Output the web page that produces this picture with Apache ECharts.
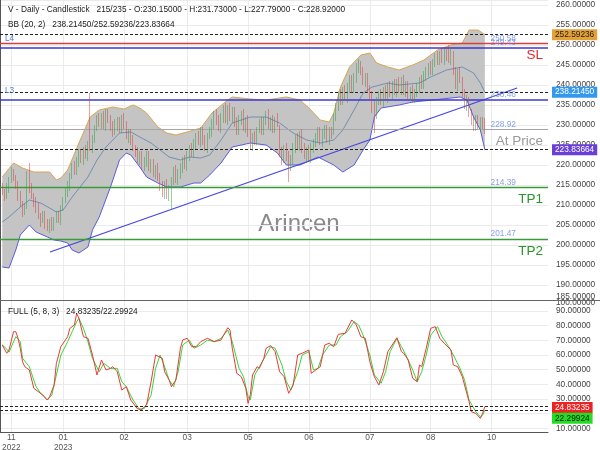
<!DOCTYPE html>
<html><head><meta charset="utf-8">
<script src="https://cdn.jsdelivr.net/npm/echarts@6/dist/echarts.min.js"></script>
<style>html,body{margin:0;padding:0;background:#fff}#c{width:600px;height:450px}</style>
</head><body><div id="c"></div>
<script>
// ---- candles (bar k sits on slot k+1) ----
const opens = [214.5,213.0,212.5,214.0,216.5,218.0,216.5,215.5,212.5,210.0,
208.5,210.0,219.0,214.5,212.0,211.0,209.5,207.0,206.5,207.5,
205.5,204.0,206.0,204.0,206.5,207.5,206.0,209.5,211.5,213.0,
214.0,217.5,220.0,218.5,220.5,223.0,221.0,224.0,222.0,227.5,
224.0,226.0,229.5,232.0,230.0,232.5,229.5,233.5,231.5,230.0,
228.5,229.5,231.5,229.0,232.0,230.5,226.5,228.5,226.5,224.0,
223.5,221.0,223.0,219.5,220.5,222.5,219.0,221.0,217.5,219.5,
217.5,215.0,212.5,215.5,212.0,214.5,216.0,219.0,216.0,217.5,
219.0,221.5,219.5,222.0,224.5,223.0,225.0,227.5,225.5,229.0,
226.5,224.0,227.5,228.0,230.0,233.0,231.5,229.0,231.5,234.0,
231.0,234.5,231.5,233.5,231.0,228.5,231.0,233.0,229.0,231.5,
228.5,224.5,227.5,225.5,229.0,231.0,228.0,231.0,233.0,229.5,
231.5,228.5,232.0,229.5,223.5,221.0,224.5,222.5,219.0,221.0,
224.0,227.0,224.5,228.0,224.5,222.0,224.0,221.5,224.0,225.0,
226.5,229.0,225.5,227.5,229.5,226.0,229.0,228.0,232.0,234.0,
238.0,236.0,239.0,236.5,239.0,241.5,239.0,241.5,244.5,245.5,
244.0,240.5,242.5,239.5,238.0,234.5,232.5,236.0,238.0,235.5,
239.0,236.5,240.0,237.5,240.5,238.0,241.0,238.5,241.5,238.0,
240.5,237.0,239.0,236.0,238.0,239.0,241.5,240.0,242.0,243.0,
245.0,243.0,245.0,247.5,245.5,248.0,246.0,248.5,247.5,246.0,
248.0,243.5,239.5,243.5,241.5,238.5,234.5,236.5,233.5,231.5,
229.0,232.0,229.5,231.5,230.15];
const closes = [213.5,212.0,214.5,216.0,218.5,217.0,215.0,212.0,210.5,208.0,
209.5,218.0,214.0,212.5,210.5,209.0,207.5,206.0,207.0,205.0,
204.0,205.5,204.5,206.0,207.5,206.5,209.0,211.0,213.5,214.5,
217.0,219.5,218.5,221.0,222.5,221.5,223.5,222.5,225.0,224.5,
226.5,229.0,231.5,230.5,232.0,230.0,233.0,231.5,229.5,228.0,
230.5,231.0,229.0,231.5,230.0,227.5,228.0,226.0,224.5,223.0,
221.5,222.5,220.0,221.0,222.5,219.5,220.5,218.0,219.0,217.0,
214.5,213.0,215.0,212.5,214.0,216.0,218.5,216.5,218.0,219.5,
221.0,220.0,222.5,224.0,223.0,225.5,227.0,226.0,228.5,226.0,
224.5,227.0,228.5,230.5,232.5,231.0,229.5,232.0,233.5,231.5,
234.0,232.0,233.5,230.5,229.0,231.5,232.5,229.5,231.0,228.0,
225.0,227.0,226.0,229.0,230.5,228.5,231.5,232.5,230.0,231.0,
229.0,231.5,230.5,223.0,221.5,224.0,222.0,219.5,221.5,224.5,
226.5,225.0,227.5,224.0,222.5,223.5,222.0,224.5,225.5,227.0,
228.5,226.0,228.0,229.0,226.5,228.5,227.5,232.0,234.5,237.5,
236.0,238.5,237.0,239.5,241.0,239.0,242.0,244.0,245.0,243.5,
241.0,242.0,239.0,237.5,234.0,233.0,236.0,237.5,236.0,238.5,
237.0,239.5,238.0,240.0,238.5,240.5,239.0,241.0,238.5,240.0,
237.5,238.5,236.5,238.0,239.5,241.0,240.0,242.5,243.5,244.5,
243.5,245.5,247.0,246.0,247.5,246.5,248.0,247.0,246.5,248.5,
243.0,240.0,243.0,241.5,238.0,235.0,236.0,233.0,231.0,229.5,
231.5,230.0,231.0,230.2,228.92];
const lows = [212.5,211.0,211.5,213.0,215.5,216.0,214.0,211.0,209.5,207.0,
207.5,209.0,213.0,211.5,209.5,208.0,206.5,204.5,205.5,204.0,
203.5,203.0,203.5,203.5,205.5,205.5,205.0,208.5,210.5,212.0,
213.5,216.5,217.5,217.5,219.5,220.5,220.0,221.5,221.0,223.5,
223.0,225.5,228.5,229.5,229.0,229.0,228.5,230.5,228.5,227.0,
227.5,228.5,228.0,228.0,229.0,226.5,225.5,225.0,223.5,222.0,
220.5,220.0,219.0,218.5,219.5,218.5,218.0,217.0,216.5,216.0,
213.5,212.0,211.5,211.5,211.0,208.75,215.0,215.5,215.0,216.5,
218.0,219.0,218.5,221.0,222.0,222.0,224.0,225.0,224.5,225.0,
223.5,223.0,226.5,227.0,229.0,230.0,228.5,228.0,230.5,230.5,
230.0,231.0,230.5,229.5,227.5,227.5,230.0,228.5,228.0,227.0,
224.0,223.5,225.0,225.0,228.0,227.5,227.5,230.0,229.0,228.5,
228.0,228.0,229.5,222.0,220.0,220.5,221.0,215.75,218.5,220.0,
223.0,224.0,223.5,223.0,221.5,221.0,221.0,220.5,223.0,224.5,
225.5,225.0,224.5,226.5,225.5,225.0,226.5,227.5,231.0,233.5,
235.0,235.0,236.0,235.5,238.0,238.0,238.0,240.5,243.0,242.5,
240.0,239.5,238.0,236.5,233.0,228.0,231.5,235.0,235.0,234.5,
236.0,235.5,237.0,236.5,237.5,237.0,238.0,237.5,237.5,237.0,
236.5,236.0,235.5,235.5,237.0,238.0,239.0,239.0,241.0,242.0,
242.5,242.5,244.5,245.0,245.0,245.5,245.0,246.0,245.5,245.0,
242.5,239.0,238.5,240.5,237.0,234.0,233.5,232.0,230.0,228.5,
228.5,229.0,228.5,229.0,227.79];
const highs = [215.5,214.0,215.5,217.0,219.5,219.0,217.5,216.0,213.5,211.0,
210.5,218.5,220.5,215.5,213.0,212.0,210.5,208.0,208.5,208.5,
206.5,206.5,207.0,207.0,208.5,208.5,210.0,212.0,214.5,216.0,
218.0,220.5,221.0,222.0,224.0,224.0,224.5,225.0,226.0,238.0,
227.5,230.0,232.5,233.0,233.0,233.5,234.0,234.0,232.5,231.0,
231.5,232.0,232.0,232.5,233.0,231.0,229.0,229.0,227.5,225.0,
224.5,223.5,223.5,222.0,223.5,223.5,221.5,221.5,220.0,220.5,
218.0,216.0,216.0,216.5,215.0,217.0,219.5,220.0,219.0,220.5,
222.0,222.5,223.5,225.0,225.5,226.5,228.0,228.5,229.5,229.5,
227.5,228.0,229.5,231.5,233.5,234.0,232.5,233.0,235.0,235.5,
235.0,235.5,234.5,234.5,232.0,232.5,233.5,234.0,232.0,232.5,
229.0,228.0,228.5,229.5,231.5,232.0,232.0,233.5,234.0,232.0,
232.5,232.0,233.0,230.0,224.5,225.0,225.5,223.5,222.5,225.5,
227.5,228.0,228.5,229.0,225.5,224.5,225.0,225.5,226.5,228.0,
229.5,229.5,229.0,230.0,230.0,229.5,229.5,233.0,235.5,238.5,
239.0,239.5,240.0,240.5,242.5,242.5,243.0,245.5,246.5,246.0,
244.5,243.0,243.0,240.0,238.5,236.0,237.0,238.5,239.0,239.5,
240.0,240.5,241.0,241.0,241.5,241.5,242.0,242.0,242.5,241.0,
241.0,239.5,240.0,239.0,240.5,242.0,242.5,243.5,244.5,245.5,
246.0,246.5,248.0,248.5,248.5,249.0,249.0,249.5,250.0,249.5,
248.5,244.5,244.0,244.5,242.0,239.0,237.5,237.0,234.0,232.0,
232.5,232.5,232.0,232.0,231.73];

// ---- Bollinger (20,2): [slot, value] ----
const bbUpper = [[1,217],[6,220.5],[10,219.25],[15,218.25],[22,218.25],[25,216.25],[27,216.75],[30,218.75],[35,225.5],[40,232],[44,233.75],[50,234.5],[55,234],[59,235],[62,234.25],[65,233],[70,229.5],[74,228],[78,227.5],[83,228.25],[89,229.25],[94,233],[101,236.25],[103,237],[111,236.5],[118,236.25],[127,237],[133,236.25],[137,234.25],[142,231.25],[146,230.75],[148,233],[151,239.5],[155,244.5],[160,247.5],[164,248],[167,245.5],[172,244.5],[177,243.75],[183,245],[188,246.25],[194,248.75],[200,250],[205,250.5],[208,253.75],[212,253.75],[215,252.59]];
const bbMid = [[1,205.75],[4,207],[9,209.5],[13,211.25],[18,210.5],[22,209.25],[25,208.25],[28,208.75],[32,212],[39,217],[43,221.25],[47,224.5],[53,228],[58,228.25],[62,227],[67,225.5],[71,223.75],[75,222],[80,221.25],[84,222],[89,221.75],[93,222.5],[98,226.25],[103,230.5],[111,232],[118,232],[124,230.5],[130,228],[136,226.25],[142,225.5],[148,226.25],[152,228.75],[157,233.75],[161,238],[165,239.5],[172,240.5],[177,240],[186,240.5],[191,242],[198,243.75],[205,244.5],[210,243],[213,240.5],[215,238.21]];
const bbLower = [[1,194.5],[4,194.25],[7,198.75],[9,202.5],[13,205],[16,203.25],[21,202],[24,201.25],[27,201],[30,200.5],[32,198.75],[35,198],[39,199.5],[41,203.75],[44,207],[49,214.5],[53,221.25],[56,223],[58,222.5],[62,219.5],[65,217],[70,215.5],[74,214.5],[80,214.5],[86,215.5],[89,215.5],[93,217.5],[98,220.5],[103,224.5],[111,225.5],[118,225],[123,223],[127,220],[133,220],[141,222],[148,220],[152,218.25],[157,220],[161,223.75],[164,226.25],[166,232],[169,234.25],[177,235],[183,235.75],[192,236.25],[204,237],[207,236.25],[210,232],[213,228.75],[215,223.84]];
const bbLast = [238.21450, 252.59236, 223.83664];

// ---- Stochastic FULL (5,8,3): [slot, value] ----
const stochK = [[1,66.8],[3,61.2],[4,63.4],[6,75.9],[7,75.9],[8,71.4],[9,64.6],[10,55.4],[11,52],[13,49.8],[15,37.3],[17,35],[19,32.7],[21,29.3],[22,31.6],[24,39.5],[25,54.3],[27,65.7],[30,72.5],[31,78.2],[33,80.5],[34,88.4],[35,85],[37,72.5],[39,71.4],[41,60],[43,46.4],[45,56.6],[47,49.8],[49,50.9],[50,52],[52,48.6],[54,36.1],[56,38.4],[58,29.3],[61,23.2],[63,23.2],[65,25.9],[67,41.8],[69,60],[72,57.7],[73,48.6],[75,43],[76,38.4],[78,43],[80,64.6],[81,70.2],[83,71.4],[85,65.7],[87,65.7],[89,69.1],[92,71.4],[95,69.1],[98,70.2],[101,78.6],[102,77],[103,64.6],[105,47.5],[107,45.2],[109,37.3],[110,27],[111,33],[112,46.4],[114,52],[115,50.9],[117,57.7],[118,64.6],[120,66.4],[122,62.3],[124,48.6],[126,45.2],[128,33.9],[130,39.5],[132,60],[134,61.2],[137,63.4],[138,47.5],[140,49.8],[142,52],[144,66.8],[146,68],[148,65.7],[150,74.1],[153,74.8],[156,83.9],[158,80.5],[160,72.5],[162,71.4],[164,55.4],[166,45.2],[168,39.5],[170,48.6],[172,62.3],[176,71.8],[178,62.3],[179,61.2],[181,56.6],[183,44.1],[185,41.8],[186,53.2],[187,52],[189,64.6],[191,78.2],[193,79.3],[195,71.4],[197,68],[200,63.4],[201,53.2],[203,52],[205,45.2],[208,28.2],[209,21.3],[211,20.2],[213,16.8],[214,20.2],[215,24.83]];
const stochD = [[1,67],[3,64],[4,61.9],[7,72.5],[9,69.1],[10,57.7],[13,52],[16,38.4],[18,34],[21,29.3],[23,32.7],[25,46.4],[27,60],[30,69.1],[32,75.9],[34,82.7],[35,85],[37,78.2],[39,69.1],[41,57.7],[44,48.6],[46,54.3],[49,50.9],[52,50.9],[54,41.8],[56,38.4],[59,29.3],[62,22.5],[64,23.6],[67,32.7],[69,50.9],[71,60],[73,52],[75,43],[77,38.4],[79,48.6],[81,66.8],[84,70.2],[86,64.6],[89,66.8],[92,70.2],[95,69.1],[98,71.4],[101,77],[103,69.1],[106,50.9],[108,45.2],[110,31.6],[111,29.3],[113,46.4],[115,52],[118,60],[120,65.7],[122,64.6],[125,53.2],[127,41.8],[129,36.1],[132,48.6],[134,60],[137,62.3],[139,49.8],[141,50.9],[143,60],[146,66.8],[149,66.8],[151,72.5],[154,75.9],[157,82.7],[159,80.5],[161,73.6],[164,60],[166,46.4],[169,40.7],[171,48.6],[173,62.3],[176,71.4],[178,65.7],[180,60],[183,49.8],[185,41.8],[187,48.6],[189,60],[191,73.6],[194,79.3],[196,72.5],[199,65.7],[201,60],[204,50.9],[206,43],[208,29.3],[211,21.3],[213,17.9],[214,19],[215,22.3]];
const stochLast = [24.83235, 22.29924];

// ---- levels ----
const trendLine = [[22.2,198.25],[229.3,239.25]];
const slLevel = 250.35, l4Level = 249.43, l3Level = 236.4, lastPrice = 228.92, tp1Level = 214.39, tp2Level = 201.47;
const levelTexts = [['250.58', slLevel], ['249.43', l4Level], ['238.46', l3Level], ['228.92', lastPrice], ['214.39', tp1Level], ['201.47', tp2Level]];

// ---- x ticks ----
const slotCount = 244;
const xTickIdx = [5,28,55,83,110,137,164,191,218];
const xTickText = ['11\n2022','01\n2023','02','03','05','06','07','08','10'];

const FONT = 'Liberation Sans, Arial, sans-serif';
const cats = Array.from({length: slotCount}, (_, i) => { const k = xTickIdx.indexOf(i); return k >= 0 ? xTickText[k] : ''; });
const candleData = ['-'].concat(closes.map((c, i) => [opens[i], c, lows[i], highs[i]]));
const splitFn = (idx) => xTickIdx.indexOf(idx) >= 0;
const gridLine = {color: '#ebebeb', width: 1};
const dash = {type: [3, 2], color: '#222', width: 1};
function tag(text, bg, fg, off) {
  return {show: true, position: 'end', distance: 4, formatter: () => text, backgroundColor: bg, color: fg,
    padding: [1, 3], fontSize: 8.3, lineHeight: 9, fontFamily: FONT, offset: off || [0, 0]};
}
const noLabel = {show: false};
const fmt5 = v => v.toFixed(5);

const chart = echarts.init(document.getElementById('c'), null, {renderer: 'canvas'});
chart.setOption({
  animation: false,
  backgroundColor: '#fff',
  textStyle: {fontFamily: FONT},
  grid: [
    {left: 0, top: 0, width: 548, height: 300, outerBoundsMode: 'none', containLabel: false},
    {left: 0, top: 300, width: 548, height: 132, outerBoundsMode: 'none', containLabel: false}
  ],
  xAxis: [
    {type: 'category', gridIndex: 0, data: cats, boundaryGap: false,
      axisLine: {show: false}, axisTick: {show: false}, axisLabel: {show: false},
      splitLine: {show: true, interval: splitFn, lineStyle: gridLine}},
    {type: 'value', gridIndex: 0, min: 0, max: slotCount - 1, show: false},
    {type: 'category', gridIndex: 1, data: cats, boundaryGap: false,
      axisLine: {show: true, lineStyle: {color: '#555'}}, axisTick: {show: false},
      axisLabel: {interval: 0, fontSize: 8.3, color: '#555', margin: 1, lineHeight: 10},
      splitLine: {show: true, interval: splitFn, lineStyle: gridLine}},
    {type: 'value', gridIndex: 1, min: 0, max: slotCount - 1, show: false}
  ],
  yAxis: [
    {type: 'value', gridIndex: 0, position: 'right', min: 186.25, max: 261.25, splitNumber: 15,
      axisLine: {show: true, lineStyle: {color: '#555'}}, axisTick: {show: false},
      axisLabel: {showMinLabel: false, showMaxLabel: false, fontSize: 8.3, color: '#444', margin: 8, formatter: fmt5},
      splitLine: {show: true, lineStyle: gridLine}},
    {type: 'value', gridIndex: 1, position: 'right', min: 7.5, max: 97.5, splitNumber: 9,
      axisLine: {show: true, lineStyle: {color: '#555'}}, axisTick: {show: false},
      axisLabel: {showMinLabel: false, showMaxLabel: false, fontSize: 8.3, color: '#444', margin: 8, formatter: fmt5},
      splitLine: {show: true, lineStyle: gridLine}}
  ],
  series: [
    {type: 'custom', name: 'bbfill', xAxisIndex: 1, yAxisIndex: 0, silent: true, z: 1, data: [[100, 220]],
      renderItem: (params, api) => {
        const pts = bbUpper.map(p => api.coord(p)).concat(bbLower.slice().reverse().map(p => api.coord(p)));
        return {type: 'polygon', shape: {points: pts}, style: {fill: '#c4c4c4'}};
      }},
    {type: 'line', name: 'bbUpper', xAxisIndex: 1, yAxisIndex: 0, data: bbUpper, showSymbol: false, z: 3,
      lineStyle: {color: '#d9a54e', width: 1}},
    {type: 'line', name: 'bbMid', xAxisIndex: 1, yAxisIndex: 0, data: bbMid, showSymbol: false, z: 3,
      lineStyle: {color: '#5a80b0', width: 0.8}},
    {type: 'line', name: 'bbLower', xAxisIndex: 1, yAxisIndex: 0, data: bbLower, showSymbol: false, z: 3,
      lineStyle: {color: '#5b5be0', width: 1}},
    {type: 'line', name: 'trend', xAxisIndex: 1, yAxisIndex: 0, data: trendLine, showSymbol: false, z: 4,
      lineStyle: {color: '#4646e0', width: 1.3}},
    {type: 'candlestick', name: 'V', xAxisIndex: 0, yAxisIndex: 0, data: candleData, barWidth: 1.1, z: 6,
      itemStyle: {color: '#2f9c48', color0: '#d83a3a', borderColor: '#2f9c48', borderColor0: '#d83a3a', borderWidth: 0.5},
      markLine: {symbol: ['none', 'none'], silent: true, animation: false, label: noLabel, data: [
        {yAxis: bbLast[1], lineStyle: dash, label: tag('252.59236', '#e3a236', '#222')},
        {yAxis: bbLast[0], lineStyle: dash, label: tag('238.21450', '#3399ee', '#fff')},
        {yAxis: bbLast[2], lineStyle: dash, label: tag('223.83664', '#6a3fd6', '#fff')},
        {yAxis: slLevel, lineStyle: {color: '#e03c3c', width: 1.3, type: 'solid'},
          label: {show: true, position: 'insideEndBottom', formatter: 'SL', color: '#e02a2a', fontSize: 13.5, fontFamily: FONT}},
        {yAxis: l4Level, lineStyle: {color: '#3a3ad0', width: 1.5, type: 'solid'},
          label: {show: true, position: 'insideStartTop', formatter: 'L4', color: '#5577e0', fontSize: 8.3, fontFamily: FONT}},
        {yAxis: l3Level, lineStyle: {color: '#3a3ad0', width: 1.5, type: 'solid'},
          label: {show: true, position: 'insideStartTop', formatter: 'L3', color: '#5577e0', fontSize: 8.3, fontFamily: FONT}},
        {yAxis: lastPrice, lineStyle: {color: '#a5a5a5', width: 1, type: 'solid'},
          label: {show: true, position: 'insideEndBottom', formatter: 'At Price', color: '#9a9a9a', fontSize: 13.5, fontFamily: FONT}},
        {yAxis: lastPrice, lineStyle: {opacity: 0}, label: tag('228.92000', '#e53030', '#fff')},
        {yAxis: tp1Level, lineStyle: {color: '#3a9a3a', width: 1.3, type: 'solid'},
          label: {show: true, position: 'insideEndBottom', formatter: 'TP1', color: '#2a952a', fontSize: 13.5, fontFamily: FONT}},
        {yAxis: tp2Level, lineStyle: {color: '#3a9a3a', width: 1.3, type: 'solid'},
          label: {show: true, position: 'insideEndBottom', formatter: 'TP2', color: '#2a952a', fontSize: 13.5, fontFamily: FONT}}
      ]}},
    {type: 'scatter', name: 'levelText', xAxisIndex: 1, yAxisIndex: 0, symbolSize: 1, z: 7, silent: true,
      itemStyle: {color: 'rgba(0,0,0,0)'},
      data: levelTexts.map(([t, v]) => ({value: [217.3, v], label: {formatter: () => t}})),
      label: {show: true, position: 'right', distance: 0, offset: [0, -5], color: '#6a8ae0', fontSize: 8.3, fontFamily: FONT}},
    {type: 'line', name: 'K', xAxisIndex: 3, yAxisIndex: 1, data: stochK, showSymbol: false, z: 4,
      lineStyle: {color: '#e83a3a', width: 1},
      markLine: {symbol: ['none', 'none'], silent: true, animation: false, label: noLabel, data: [
        {yAxis: stochLast[0], lineStyle: dash, label: tag('24.83235', '#ee2222', '#fff', [0, 1])},
        {yAxis: stochLast[1], lineStyle: dash, label: tag('22.29924', '#22dd22', '#111', [0, 8])}
      ]}},
    {type: 'line', name: 'D', xAxisIndex: 3, yAxisIndex: 1, data: stochD, showSymbol: false, z: 3,
      lineStyle: {color: '#3ad43a', width: 1}}
  ],
  graphic: [
    {type: 'text', x: 8, y: 10, z: 10, style: {text: 'V - Daily - Candlestick   215/235 - O:' + opens[214].toFixed(5) + ' - H:' + highs[214].toFixed(5) + ' - L:' + lows[214].toFixed(5) + ' - C:' + closes[214].toFixed(5), fontSize: 8.3, fontFamily: FONT, fill: '#222', verticalAlign: 'middle', textVerticalAlign: 'middle'}},
    {type: 'text', x: 8, y: 25, z: 10, style: {text: 'BB (20, 2)   ' + bbLast.map(fmt5).join('/'), fontSize: 8.3, fontFamily: FONT, fill: '#222', verticalAlign: 'middle', textVerticalAlign: 'middle'}},
    {type: 'text', x: 8, y: 312, z: 10, style: {text: 'FULL (5, 8, 3)   ' + stochLast.map(fmt5).join('/'), fontSize: 8.3, fontFamily: FONT, fill: '#222', verticalAlign: 'middle', textVerticalAlign: 'middle'}},
    {type: 'text', x: 299, y: 224, z: 0, style: {text: 'Arincen', fontSize: 24, fontFamily: FONT, fill: '#8a8a8a', align: 'center', textAlign: 'center', verticalAlign: 'middle', textVerticalAlign: 'middle'}},
    {type: 'text', x: 556, y: 296.5, z: 10, style: {text: '185.00000', fontSize: 8.3, fontFamily: FONT, fill: '#444', verticalAlign: 'middle', textVerticalAlign: 'middle'}},
    {type: 'text', x: 556, y: 302.5, z: 10, style: {text: '100.00000', fontSize: 8.3, fontFamily: FONT, fill: '#444', verticalAlign: 'middle', textVerticalAlign: 'middle'}},
    {type: 'line', z: 11, shape: {x1: 0, y1: 300.5, x2: 600, y2: 300.5}, style: {stroke: '#666', lineWidth: 1}}
  ]
});
</script>
</body></html>
